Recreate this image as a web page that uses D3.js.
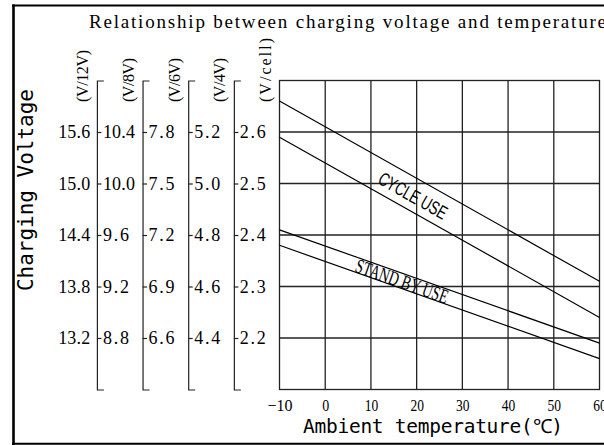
<!DOCTYPE html>
<html><head><meta charset="utf-8">
<script src="https://cdn.jsdelivr.net/npm/d3@7"></script>
<style>body{margin:0;background:#fff;} svg{display:block}</style>
</head><body><svg id="c" width="604" height="445"></svg>
<script>
// ---- data ----
const title = "Relationship between charging voltage and temperature";
const yTitle = "Charging Voltage";
const xTitle = "Ambient temperature(℃)";
const temperatures = [-10, 60];
const cycleUpper = [2.66, 2.31];
const cycleLower = [2.59, 2.24];
const standbyUpper = [2.41, 2.19];
const standbyLower = [2.38, 2.16];
const xTicks = [-10, 0, 10, 20, 30, 40, 50, 60];
const cellTicks = [2.2, 2.3, 2.4, 2.5, 2.6];
const unitLabels = ["(V/12V)", "(V/8V)", "(V/6V)", "(V/4V)", "(V/cell)"];
const cellsPerUnit = [6, 4, 3, 2, 1];
const cycleLabel = "CYCLE USE";
const standbyLabel = "STAND BY USE";
const cycleLabelTemp = 19.2;
const standbyLabelTemp = 16.8;

// ---- layout ----
const svg = d3.select("#c");
const x = d3.scaleLinear().domain([-10, 60]).range([279.5, 599.5]);
const y = d3.scaleLinear().domain([2.1, 2.7]).range([389.5, 80.5]);
const colGap = 45.65;
const serif = "'Liberation Serif', 'DejaVu Serif', serif";
const mono = "'DejaVu Sans Mono', 'Liberation Mono', monospace";

// outer frame
svg.append("line").attr("x1", 13.5).attr("x2", 13.5).attr("y1", 4.5).attr("y2", 445).attr("stroke", "#000").attr("stroke-width", 2.6);
svg.append("line").attr("x1", 12).attr("x2", 604).attr("y1", 5.5).attr("y2", 5.5).attr("stroke", "#000").attr("stroke-width", 2);
svg.append("line").attr("x1", 12).attr("x2", 604).attr("y1", 443.8).attr("y2", 443.8).attr("stroke", "#000").attr("stroke-width", 2);

// title
svg.append("text").attr("x", 89).attr("y", 28).attr("font-family", serif).attr("font-size", 19)
  .attr("textLength", 517).attr("lengthAdjust", "spacing").attr("fill", "#000").text(title);

// grid
const g = svg.append("g");
g.selectAll("line.v").data(xTicks.slice(1, -1)).join("line")
  .attr("x1", d => x(d)).attr("x2", d => x(d)).attr("y1", y(2.7)).attr("y2", y(2.1))
  .attr("stroke", "#222").attr("stroke-width", 1.3);
g.selectAll("line.h").data(cellTicks).join("line")
  .attr("x1", x(-10)).attr("x2", x(60)).attr("y1", d => y(d)).attr("y2", d => y(d))
  .attr("stroke", "#222").attr("stroke-width", 1.3);
g.append("rect").attr("x", x(-10)).attr("y", y(2.7)).attr("width", x(60) - x(-10)).attr("height", y(2.1) - y(2.7))
  .attr("fill", "none").attr("stroke", "#222").attr("stroke-width", 1.3);

// curves
const line = d3.line().x(d => x(d[0])).y(d => y(d[1]));
[cycleUpper, cycleLower, standbyUpper, standbyLower].forEach(s => {
  svg.append("path").attr("d", line(temperatures.map((t, i) => [t, s[i]])))
    .attr("fill", "none").attr("stroke", "#000").attr("stroke-width", 1.2);
});

// band labels
function bandLabel(upper, lower, t, txt, font, size, len, dy) {
  const fu = d3.scaleLinear().domain(temperatures).range(upper);
  const fl = d3.scaleLinear().domain(temperatures).range(lower);
  const px = x(t), py = (y(fu(t)) + y(fl(t))) / 2 + dy;
  const ang = Math.atan2(y(upper[1]) - y(upper[0]), x(temperatures[1]) - x(temperatures[0])) * 180 / Math.PI;
  svg.append("text").attr("transform", `translate(${px},${py}) rotate(${ang})`)
    .attr("text-anchor", "middle").attr("dominant-baseline", "central")
    .attr("font-family", font).attr("font-size", size)
    .attr("textLength", len).attr("lengthAdjust", "spacingAndGlyphs").text(txt);
}
bandLabel(cycleUpper, cycleLower, cycleLabelTemp, cycleLabel, "'Liberation Sans Narrow','Liberation Sans',Arial,sans-serif", 19, 76, 1.5);
bandLabel(standbyUpper, standbyLower, standbyLabelTemp, standbyLabel, serif, 20, 97, 0);

// x axis labels
const xa = svg.append("g").attr("transform", `translate(0,${y(2.1)})`)
  .call(d3.axisBottom(x).tickValues(xTicks).tickSize(0).tickPadding(10));
xa.select(".domain").remove();
xa.selectAll("text").attr("font-family", serif).attr("font-size", 16.5).attr("fill", "#000")
  .attr("lengthAdjust", "spacingAndGlyphs")
  .attr("textLength", d => d < 0 ? 25 : (d === 0 ? 7 : 13.5));

// left bracket axes
const lineX = j => x(-10) - (4 - j) * colGap;
for (let j = 0; j < 4; j++) {
  const mult = cellsPerUnit[j + 1];
  const ax = svg.append("g").attr("transform", `translate(${lineX(j)},0)`)
    .call(d3.axisRight(y).tickValues(cellTicks).tickSize(4.5).tickSizeOuter(7).tickPadding(1.5)
      .tickFormat(v => (v * mult).toFixed(1)));
  ax.select(".domain").attr("stroke", "#222").attr("stroke-width", 1.2);
  ax.selectAll(".tick line").attr("stroke", "#222").attr("stroke-width", 1.2);
  ax.selectAll("text").attr("font-family", serif).attr("font-size", 18).attr("fill", "#000")
    .attr("lengthAdjust", "spacing")
    .attr("textLength", function () { return this.textContent.length > 3 ? 32 : 26; });
}
// 12V labels
const a12 = svg.append("g").attr("transform", `translate(${lineX(0)},0)`)
  .call(d3.axisLeft(y).tickValues(cellTicks).tickSize(0).tickPadding(6.7)
    .tickFormat(v => (v * cellsPerUnit[0]).toFixed(1)));
a12.select(".domain").remove();
a12.selectAll("text").attr("font-family", serif).attr("font-size", 18).attr("fill", "#000")
  .attr("lengthAdjust", "spacing").attr("textLength", 32);

// unit headers
const headerLens = [52, 44, 44, 44, 64];
unitLabels.forEach((u, i) => {
  const bx = (i < 4 ? lineX(i) : x(-10)) - 8.5;
  svg.append("text").attr("transform", `translate(${bx},102) rotate(-90)`)
    .attr("font-family", serif).attr("font-size", 16).attr("fill", "#000")
    .attr("textLength", headerLens[i]).attr("lengthAdjust", "spacing").text(u);
});

// axis titles
svg.append("text").attr("transform", "translate(33,291) rotate(-90)")
  .attr("font-family", mono).attr("font-size", 21).attr("fill", "#000")
  .attr("textLength", 202).attr("lengthAdjust", "spacing").text(yTitle);
svg.append("text").attr("x", 303).attr("y", 432.5)
  .attr("font-family", mono).attr("font-size", 19.5).attr("fill", "#000")
  .attr("textLength", 260).attr("lengthAdjust", "spacing").text(xTitle);
</script></body></html>
